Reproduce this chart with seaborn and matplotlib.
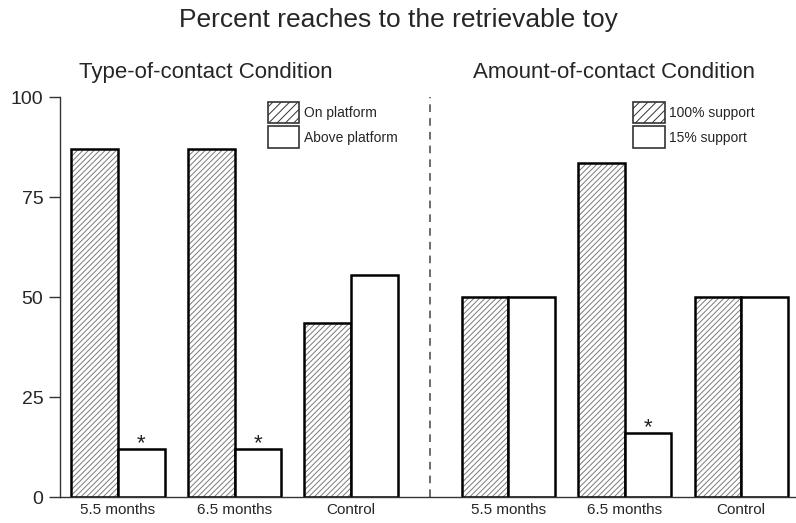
"""
Percent reaches to the retrievable toy, two conditions side by side
"""
import pandas as pd
import matplotlib
matplotlib.use("Agg")
import matplotlib.pyplot as plt
import matplotlib.patches as mpatches
import seaborn as sns

# Data
AGE_GROUPS = ["5.5 months", "6.5 months", "Control"]
TYPE_ON = [87, 87, 43.5]          # On platform
TYPE_ABOVE = [12, 12, 55.5]       # Above platform
AMOUNT_100 = [50, 83.5, 50]       # 100% support
AMOUNT_15 = [50, 16, 50]          # 15% support
STARRED_TYPE = [True, True, False]
STARRED_AMOUNT = [False, True, False]
Y_TICKS = [0, 25, 50, 75, 100]

sns.set_theme(style="white")
plt.rcParams["font.family"] = ["Liberation Sans", "DejaVu Sans"]
plt.rcParams["hatch.linewidth"] = 0.7

HATCH = "//////"
HATCH_GREY = "#7a7a7a"
BAR_W = 0.4
GROUP_GAP = 1.35   # extra space between the two conditions

# positions of the six pairs
centers = [0, 1, 2] + [GROUP_GAP + 2 + i for i in range(3)]
hatched_vals = TYPE_ON + AMOUNT_100
open_vals = TYPE_ABOVE + AMOUNT_15
stars = STARRED_TYPE + STARRED_AMOUNT

df_hatch = pd.DataFrame({"pos": [c - BAR_W / 2 for c in centers], "value": hatched_vals})
df_open = pd.DataFrame({"pos": [c + BAR_W / 2 for c in centers], "value": open_vals})

fig = plt.figure(figsize=(7.96, 5.23), dpi=100)
ax = fig.add_axes([0.0754, 0.0497, 0.9246, 0.7648])

# hatch layer (grey hatch lines come from the edge colour)
sns.barplot(data=df_hatch, x="pos", y="value", native_scale=True, orient="x",
            width=BAR_W, color="white", edgecolor=HATCH_GREY, linewidth=0,
            hatch=HATCH, ax=ax)
n_hatch = len(ax.patches)
for p in ax.patches:
    p.set_facecolor("white")

# black outlines on top of the hatched bars, then the open bars
sns.barplot(data=df_hatch, x="pos", y="value", native_scale=True, orient="x",
            width=BAR_W, color="white", edgecolor="black", linewidth=1.8, ax=ax)
for p in ax.patches[n_hatch:]:
    p.set_facecolor("none")
n_outline = len(ax.patches)
sns.barplot(data=df_open, x="pos", y="value", native_scale=True, orient="x",
            width=BAR_W, color="white", edgecolor="black", linewidth=1.8, ax=ax)
for p in ax.patches[n_outline:]:
    p.set_facecolor("white")

# asterisks on the significant bars
for c, v, s in zip(centers, open_vals, stars):
    if s:
        ax.text(c + BAR_W / 2, v - 1.3, "*", ha="center", va="bottom",
                fontsize=16, color="#222222")

# divider between the two conditions
mid = (centers[2] + centers[3]) / 2
ax.axvline(mid, color="#444444", linestyle=(0, (5, 4)), linewidth=1.1)

ax.set_xlim(-0.498, 5.82)
ax.set_ylim(0, 100)
ax.set_yticks(Y_TICKS)
ax.set_yticklabels([str(t) for t in Y_TICKS], fontsize=14)
ax.set_xticks(centers)
ax.set_xticklabels(AGE_GROUPS * 2, fontsize=11)
ax.tick_params(axis="x", length=0, pad=4)
ax.tick_params(axis="y", length=8, width=1, color="#333333", direction="out", pad=4, left=True)
ax.set_xlabel("")
ax.set_ylabel("")
sns.despine(ax=ax)
for side in ["left", "bottom"]:
    ax.spines[side].set_color("#333333")
    ax.spines[side].set_linewidth(1)

# titles
fig.text(0.5, 0.962, "Percent reaches to the retrievable toy", ha="center", va="center", fontsize=19)
fig.text(0.258, 0.862, "Type-of-contact Condition", ha="center", va="center", fontsize=16)
fig.text(0.771, 0.862, "Amount-of-contact Condition", ha="center", va="center", fontsize=16)

# legends
def make_handles():
    h1 = mpatches.Patch(facecolor="white", edgecolor="#333333", hatch="////", linewidth=1.2)
    h2 = mpatches.Patch(facecolor="white", edgecolor="#333333", linewidth=1.2)
    return [h1, h2]

leg_kw = dict(loc="upper left", frameon=False, fontsize=10, handlelength=2.3,
              handleheight=2.0, handletextpad=0.35, labelspacing=0.25)
leg1 = ax.legend(make_handles(), ["On platform", "Above platform"],
                 bbox_to_anchor=(0.265, 1.02), **leg_kw)
ax.add_artist(leg1)
ax.legend(make_handles(), ["100% support", "15% support"],
          bbox_to_anchor=(0.761, 1.02), **leg_kw)

fig.savefig("out.png", dpi=100)
